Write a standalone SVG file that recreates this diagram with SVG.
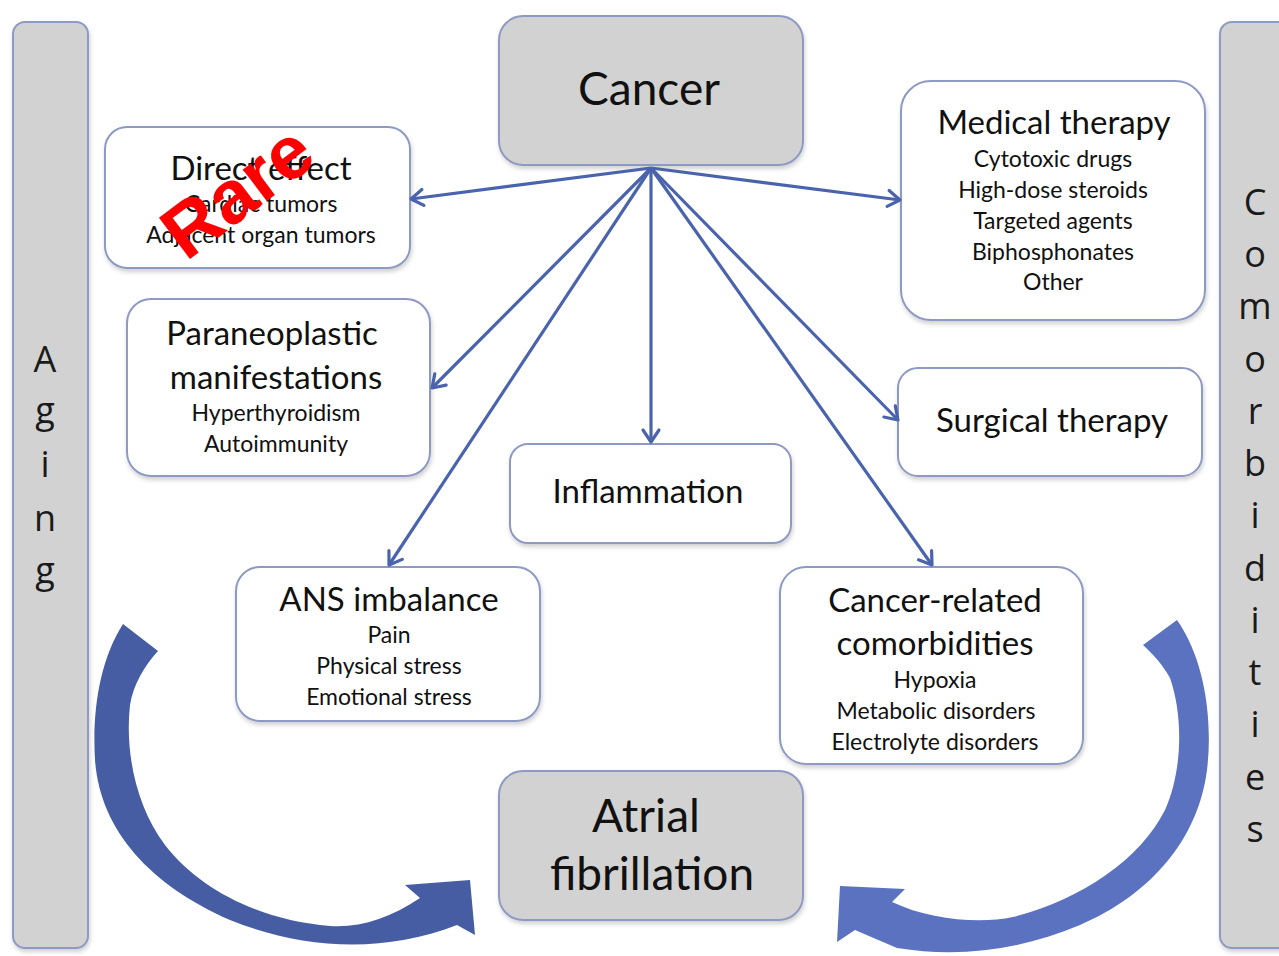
<svg xmlns="http://www.w3.org/2000/svg" width="1279" height="956" viewBox="0 0 1279 956">
<defs>
<style>
.box{fill:#ffffff;stroke:#8f9ac4;stroke-width:2}
.gbox{fill:#d2d2d2;stroke:#8f9ac4;stroke-width:2}
.t{font-family:Lato,"Open Sans",sans-serif;fill:#111111;text-anchor:middle}
.big{font-size:46px}
.h{font-size:33px}
.s{font-size:23px}
.bar{font-family:"Open Sans",sans-serif;font-size:36px;fill:#1a1a1a;text-anchor:middle}
.con{stroke:#4a63ad;stroke-width:3.2;fill:none}
</style>
<marker id="ah" markerWidth="22" markerHeight="22" refX="15" refY="11" orient="auto" markerUnits="userSpaceOnUse">
<path d="M3,3 L15,11 L3,19" fill="none" stroke="#4a63ad" stroke-width="3.2" stroke-linecap="round" stroke-linejoin="round"/>
</marker>
<filter id="sh" x="-10%" y="-10%" width="120%" height="130%">
<feDropShadow dx="1" dy="3" stdDeviation="2" flood-color="#000" flood-opacity="0.18"/>
</filter>
</defs>
<rect width="1279" height="956" fill="#ffffff"/>

<g id="aging">
<rect class="gbox" x="13" y="22" width="75" height="926" rx="12" filter="url(#sh)"/>
<text class="bar" x="45" y="372">A</text>
<text class="bar" x="45" y="423">g</text>
<text class="bar" x="45" y="477">i</text>
<text class="bar" x="45" y="531">n</text>
<text class="bar" x="45" y="583">g</text>
</g>

<g id="comorbidities">
<rect class="gbox" x="1220" y="22" width="75" height="926" rx="12" filter="url(#sh)"/>
<text class="bar" x="1255" y="215">C</text>
<text class="bar" x="1255" y="267">o</text>
<text class="bar" x="1255" y="319">m</text>
<text class="bar" x="1255" y="372">o</text>
<text class="bar" x="1255" y="424">r</text>
<text class="bar" x="1255" y="476">b</text>
<text class="bar" x="1255" y="528">i</text>
<text class="bar" x="1255" y="581">d</text>
<text class="bar" x="1255" y="633">i</text>
<text class="bar" x="1255" y="685">t</text>
<text class="bar" x="1255" y="737">i</text>
<text class="bar" x="1255" y="790">e</text>
<text class="bar" x="1255" y="842">s</text>
</g>

<g id="cancer">
<rect class="gbox" x="499" y="16" width="304" height="149" rx="24" filter="url(#sh)"/>
<text class="t big" x="649" y="105">Cancer</text>
</g>

<g id="direct-effect">
<rect class="box" x="105" y="127" width="305" height="141" rx="22" filter="url(#sh)"/>
<text class="t h" x="261" y="180">Direct effect</text>
<text class="t s" x="261" y="212">Cardiac tumors</text>
<text class="t s" x="261" y="243">Adjacent organ tumors</text>
</g>

<g id="paraneoplastic">
<rect class="box" x="127" y="299" width="303" height="177" rx="24" filter="url(#sh)"/>
<text class="t h" x="272" y="345">Paraneoplastic</text>
<text class="t h" x="276" y="389">manifestations</text>
<text class="t s" x="276" y="421">Hyperthyroidism</text>
<text class="t s" x="276" y="452">Autoimmunity</text>
</g>

<g id="medical-therapy">
<rect class="box" x="901" y="81" width="304" height="239" rx="30" filter="url(#sh)"/>
<text class="t h" x="1054" y="134">Medical therapy</text>
<text class="t s" x="1053" y="167">Cytotoxic drugs</text>
<text class="t s" x="1053" y="198">High-dose steroids</text>
<text class="t s" x="1053" y="229">Targeted agents</text>
<text class="t s" x="1053" y="260">Biphosphonates</text>
<text class="t s" x="1053" y="290">Other</text>
</g>

<g id="surgical-therapy">
<rect class="box" x="898" y="368" width="304" height="108" rx="20" filter="url(#sh)"/>
<text class="t h" x="1052" y="432">Surgical therapy</text>
</g>

<g id="inflammation">
<rect class="box" x="510" y="444" width="281" height="99" rx="18" filter="url(#sh)"/>
<text class="t h" x="648" y="503">Inflammation</text>
</g>

<g id="ans-imbalance">
<rect class="box" x="236" y="567" width="304" height="154" rx="24" filter="url(#sh)"/>
<text class="t h" x="389" y="611">ANS imbalance</text>
<text class="t s" x="389" y="643">Pain</text>
<text class="t s" x="389" y="674">Physical stress</text>
<text class="t s" x="389" y="705">Emotional stress</text>
</g>

<g id="cancer-related">
<rect class="box" x="780" y="567" width="303" height="197" rx="26" filter="url(#sh)"/>
<text class="t h" x="935" y="612">Cancer-related</text>
<text class="t h" x="935" y="655">comorbidities</text>
<text class="t s" x="935" y="688">Hypoxia</text>
<text class="t s" x="936" y="719">Metabolic disorders</text>
<text class="t s" x="935" y="750">Electrolyte disorders</text>
</g>

<g id="atrial-fibrillation">
<rect class="gbox" x="499" y="771" width="304" height="149" rx="24" filter="url(#sh)"/>
<text class="t big" x="646" y="832">Atrial</text>
<text class="t big" x="652" y="890">fibrillation</text>
</g>

<g id="connectors">
<line class="con" x1="651" y1="168" x2="411" y2="199" marker-end="url(#ah)"/>
<line class="con" x1="651" y1="168" x2="432" y2="388" marker-end="url(#ah)"/>
<line class="con" x1="651" y1="168" x2="389" y2="565" marker-end="url(#ah)"/>
<line class="con" x1="651" y1="168" x2="651" y2="442" marker-end="url(#ah)"/>
<line class="con" x1="651" y1="168" x2="932" y2="565" marker-end="url(#ah)"/>
<line class="con" x1="651" y1="168" x2="898" y2="420" marker-end="url(#ah)"/>
<line class="con" x1="651" y1="168" x2="900" y2="200" marker-end="url(#ah)"/>
<path d="M123,624 C100,660 92,710 95,760 C100,830 150,885 230,920 C300,948 380,955 457,925 L475,935 L470,880 L405,885 L420,898 C390,918 360,928 330,926 C260,920 200,890 165,845 C135,805 125,750 130,705 C133,685 145,665 158,651 Z" fill="#475da3"/>
<path d="M1177,620 C1205,660 1213,720 1207,770 C1198,840 1150,895 1080,925 C1020,950 960,958 897,948 L855,930 L837,942 L840,886 L905,889 L892,902 C930,920 980,924 1013,917 C1080,900 1140,860 1165,810 C1183,770 1183,715 1170,678 C1163,665 1153,654 1143,645 Z" fill="#5a72c0"/>
</g>

<text x="186" y="262" transform="rotate(-37 186 262)" font-family="Liberation Sans, Arial, sans-serif" font-weight="bold" font-size="75" fill="#ff0000">Rare</text>
</svg>
